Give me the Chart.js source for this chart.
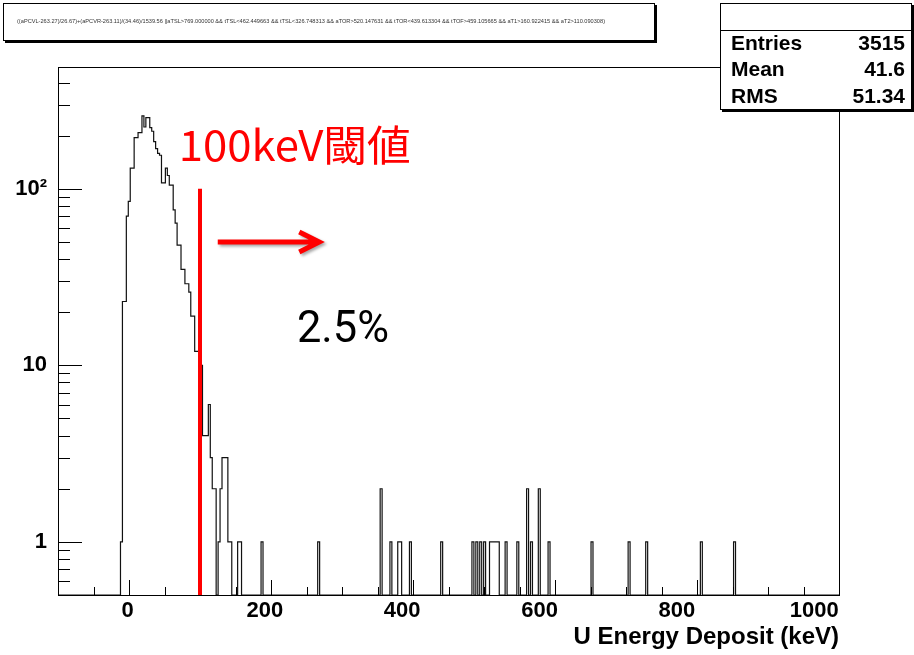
<!DOCTYPE html>
<html>
<head>
<meta charset="utf-8">
<script src="https://cdn.jsdelivr.net/npm/chart.js@4.4.0/dist/chart.umd.min.js"></script>
<style>
  html, body { margin: 0; padding: 0; background: #fff; }
  canvas { display: block; }
</style>
</head>
<body>
<canvas id="hist" width="914" height="655"></canvas>
<script>
/* U energy deposit spectrum, ROOT-style TH1 on a log y axis */
const X_MIN = -100, X_MAX = 1000, N_BINS = 400;
const Y_MIN = 0.5, Y_MAX = 490;

// dense part of the spectrum, first entry is the bin starting at -9.25 keV
const peakFirstBin = 33;
const peakCounts = [1, 23, 23, 70, 85, 131, 131, 195, 195, 208, 208, 259, 224, 253, 253, 222, 212, 185, 169, 159,
                    155, 108, 108, 131, 119, 105, 105, 76, 64, 48, 48, 35, 35, 29, 29, 26, 19, 19, 12, 12,
                    12, 10, 4, 4, 4, 6, 3, 2, 2, 0, 1, 2, 3, 3, 3, 1, 1];
// sparse tail above ~150 keV (bin index, content)
const tailBins   = [93, 94, 105, 134, 166, 171, 175, 176, 181, 197, 213, 215, 217, 219, 222, 223, 224, 225, 226,
                    230, 236, 241, 243, 247, 252, 274, 293, 302, 330, 347];
const tailCounts = [1, 1, 1, 1, 2, 1, 1, 1, 1, 1, 1, 1, 1, 1, 1, 1, 1, 1, 1,
                    1, 1, 2, 1, 2, 1, 1, 1, 1, 1, 1];

const xTickValues = [0, 200, 400, 600, 800, 1000];
const yTickValues = [1, 10, 100];
const yTickLabels = ['1', '10', '10\u00b2'];
// the x labels in the picture drift left of their ticks (about 3% per unit)
const xLabelScale = 0.967, xLabelShift = -2;

const statNames  = ['Entries', 'Mean', 'RMS'];
const statValues = ['3515', '41.6', '51.34'];
const xTitle = 'U Energy Deposit (keV)';
const cutText = '((aPCVL-263.27)/26.67)+(aPCVR-263.11)/(34.46)/1539.56 ||aTSL>769.000000 && tTSL<462.449663 && tTSL<326.748313 && aTOR>520.147631 && tTOR<439.613304 && tTOF>459.105665 && aT1>160.922415 && aT2>110.090308)';

// annotations (energy keV, counts)
const thresholdKeV = 100, thresholdTop = 100;
const arrowFrom = 125, arrowTo = 268, arrowLevel = 50;
const thrLabel = { text: '100keV閾値', keV: 70, count: 143, width: 232 };
const fracLabel = { text: '2.5%', keV: 236.5, count: 13.6, width: 92 };

const binW = (X_MAX - X_MIN) / N_BINS;
const counts = new Array(N_BINS).fill(0);
peakCounts.forEach((c, i) => { counts[peakFirstBin + i] = c; });
tailBins.forEach((b, i) => { counts[b] = tailCounts[i]; });
const points = counts.map((c, i) => ({ x: X_MIN + i * binW, y: c > 0 ? c : Y_MIN }));
points.push({ x: X_MAX, y: points[points.length - 1].y });

const LABEL_FONT = { family: '"Liberation Sans", Arial, sans-serif', size: 22, weight: 'bold' };

function fitText(ctx, text, x, y, width) {
  const w = ctx.measureText(text).width;
  ctx.save();
  ctx.translate(x, y);
  ctx.scale(width / w, 1);
  ctx.fillText(text, 0, 0);
  ctx.restore();
}

function shadowBox(ctx, x, y, w, h) {
  ctx.fillStyle = '#000';
  ctx.fillRect(x + 2, y + 2, w, h);
  ctx.fillStyle = '#fff';
  ctx.fillRect(x, y, w, h);
  ctx.strokeStyle = '#000';
  ctx.lineWidth = 1;
  ctx.strokeRect(x + 0.5, y + 0.5, w - 1, h - 1);
}

const rootDecor = {
  id: 'rootDecor',
  afterDraw(chart) {
    const { ctx, chartArea: a, scales: { x, y } } = chart;
    ctx.save();

    // inward ticks
    ctx.strokeStyle = '#000';
    ctx.lineWidth = 1;
    ctx.beginPath();
    for (let v = -50; v <= X_MAX; v += 50) {
      const px = Math.round(x.getPixelForValue(v)) + 0.5;
      const len = v % 200 === 0 ? 15 : 8;
      ctx.moveTo(px, a.bottom);
      ctx.lineTo(px, a.bottom - len);
    }
    for (let d = -1; d <= 2; d++) {
      for (let m = 1; m <= 9; m++) {
        const v = m * Math.pow(10, d);
        if (v <= Y_MIN || v >= Y_MAX) continue;
        const py = Math.round(y.getPixelForValue(v)) + 0.5;
        const len = m === 1 ? 24 : 12;
        ctx.moveTo(a.left, py);
        ctx.lineTo(a.left + len, py);
      }
    }
    ctx.stroke();
    ctx.strokeRect(Math.round(a.left) + 0.5, Math.round(a.top) + 0.5,
                   Math.round(a.right - a.left), Math.round(a.bottom - a.top));

    // threshold line
    const tx = x.getPixelForValue(thresholdKeV);
    ctx.strokeStyle = '#ff0000';
    ctx.lineWidth = 4;
    ctx.beginPath();
    ctx.moveTo(tx, y.getPixelForValue(thresholdTop));
    ctx.lineTo(tx, a.bottom);
    ctx.stroke();

    // arrow
    const ay = y.getPixelForValue(arrowLevel);
    const ax0 = x.getPixelForValue(arrowFrom), ax1 = x.getPixelForValue(arrowTo);
    ctx.save();
    ctx.shadowColor = 'rgba(0,0,0,0.35)';
    ctx.shadowBlur = 3;
    ctx.shadowOffsetX = 2;
    ctx.shadowOffsetY = 2;
    ctx.lineWidth = 5;
    ctx.beginPath();
    ctx.moveTo(ax0, ay);
    ctx.lineTo(ax1 - 3, ay);
    ctx.moveTo(ax1 - 20, ay - 10);
    ctx.lineTo(ax1, ay);
    ctx.lineTo(ax1 - 20, ay + 10);
    ctx.stroke();
    ctx.restore();

    // slide annotations
    ctx.textBaseline = 'alphabetic';
    ctx.textAlign = 'left';
    ctx.fillStyle = '#ff0000';
    ctx.font = '42px "Noto Sans CJK JP", sans-serif';
    fitText(ctx, thrLabel.text, x.getPixelForValue(thrLabel.keV), y.getPixelForValue(thrLabel.count), thrLabel.width);
    ctx.fillStyle = '#000';
    ctx.font = '44px Roboto, "Noto Sans", sans-serif';
    fitText(ctx, fracLabel.text, x.getPixelForValue(fracLabel.keV), y.getPixelForValue(fracLabel.count), fracLabel.width);

    // title pave with the cut expression
    shadowBox(ctx, 3, 3, 652, 38);
    ctx.fillStyle = '#333';
    ctx.font = '5px "Liberation Sans", Arial, sans-serif';
    ctx.textBaseline = 'middle';
    fitText(ctx, cutText, 17, 22, 588);

    // stats box
    shadowBox(ctx, 720, 3, 192, 107);
    ctx.beginPath();
    ctx.moveTo(720, 30.5);
    ctx.lineTo(912, 30.5);
    ctx.stroke();
    ctx.fillStyle = '#000';
    ctx.font = 'bold 21px "Liberation Sans", Arial, sans-serif';
    statNames.forEach((n, i) => {
      const ry = 44 + i * 26.5;
      ctx.textAlign = 'left';
      ctx.fillText(n, 731, ry);
      ctx.textAlign = 'right';
      ctx.fillText(statValues[i], 905, ry);
    });
    ctx.restore();
  }
};

new Chart(document.getElementById('hist'), {
  type: 'line',
  data: {
    datasets: [{
      data: points,
      stepped: 'after',
      borderColor: '#111',
      borderWidth: 1.2,
      pointRadius: 0,
      fill: false
    }]
  },
  options: {
    responsive: false,
    animation: false,
    events: [],
    layout: { padding: { top: 67, right: 75, left: 0, bottom: 0 } },
    plugins: { legend: { display: false }, tooltip: { enabled: false } },
    scales: {
      x: {
        type: 'linear', min: X_MIN, max: X_MAX,
        afterFit: s => { s.height = 60; },
        afterBuildTicks: s => { s.ticks = xTickValues.map(v => ({ value: v * xLabelScale + xLabelShift })); },
        grid: { display: false, drawTicks: false },
        border: { display: false },
        ticks: { color: '#000', font: LABEL_FONT, padding: 3, maxRotation: 0, autoSkip: false,
                 callback: (v, i) => String(xTickValues[i]) },
        title: { display: true, text: xTitle, align: 'end', color: '#000',
                 font: { family: '"Liberation Sans", Arial, sans-serif', size: 24, weight: 'bold' },
                 padding: { top: 0, bottom: 3 } }
      },
      y: {
        type: 'logarithmic', min: Y_MIN, max: Y_MAX,
        afterFit: s => { s.width = 58; },
        afterBuildTicks: s => { s.ticks = yTickValues.map(v => ({ value: v })); },
        grid: { display: false, drawTicks: false },
        border: { display: false },
        ticks: { color: '#000', font: LABEL_FONT, padding: 11, autoSkip: false,
                 callback: v => yTickLabels[yTickValues.indexOf(v)] }
      }
    }
  },
  plugins: [rootDecor]
});
</script>
</body>
</html>
